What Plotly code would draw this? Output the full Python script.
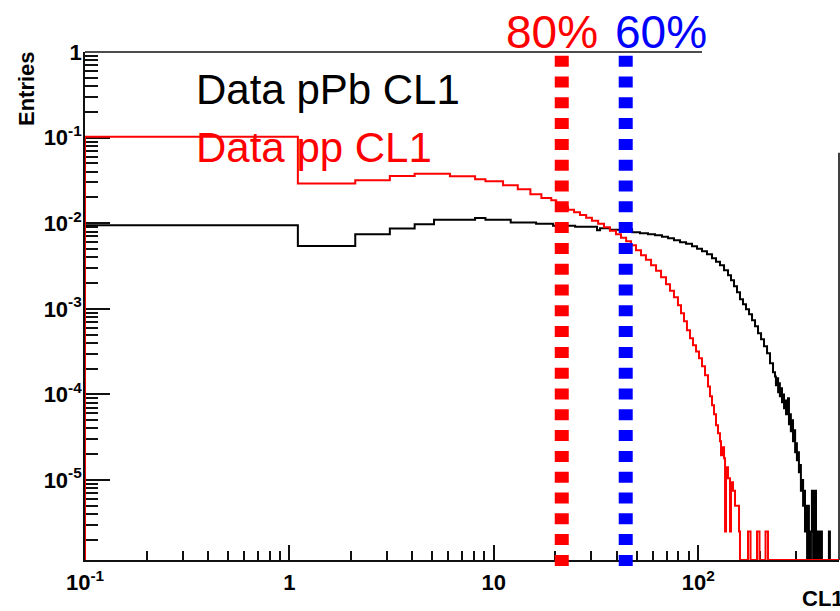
import plotly.graph_objects as go

# ---- CL1 multiplicity distributions (normalised entries per bin) ----
# pPb: bin edges in CL1 and entries
ppb_edges = [0.1, 1.1, 2.1, 3.1, 4.1, 5.1, 8.1, 9.1, 12.1, 16.1, 19.5, 25.0, 32.0, 33.1,
             37.0, 41.4, 44.8, 47.5, 51.9, 56.8, 61.5, 66.5, 71.2, 76.1, 81.5, 87.2, 93.3,
             98.7, 104.4, 110.4, 116.8, 122.2, 127.8, 133.8, 139.9, 144.7, 149.7, 154.8,
             160.1, 165.6, 171.3, 177.3, 183.4, 189.7, 196.2, 203.0, 209.9, 217.2, 224.6,
             232.3, 237.6, 240, 243, 246, 249, 251, 254, 257, 260, 263, 266, 269, 272, 275,
             278, 281, 284, 288, 291, 294, 298, 301, 304, 308, 311, 315, 318, 322, 326, 329,
             333, 337, 341, 345, 348, 352, 356, 360, 365, 369, 373, 377, 381, 386, 390, 394,
             399, 403, 436, 441, 500]
ppb_entries = [0.00945, 0.00542, 0.00742, 0.00865, 0.00970, 0.0110, 0.0115, 0.0110, 0.0102,
               0.00984, 0.00933, 0.00908, 0.00826, 0.00872, 0.00838, 0.00815, 0.00849,
               0.00783, 0.00762, 0.00742, 0.00722, 0.00694, 0.00667, 0.00631, 0.00598,
               0.00574, 0.00537, 0.00502, 0.00470, 0.00434, 0.00389, 0.00354, 0.00322,
               0.00282, 0.00247, 0.00215, 0.00183, 0.00156, 0.00129, 0.00113, 0.000987,
               0.000863, 0.000734, 0.000625, 0.000518, 0.000441, 0.000365, 0.000302,
               0.000231, 0.000181, 1.62e-4, 1.28e-4, 1.54e-4, 1.06e-4, 1.35e-4, 9.5e-5,
               1.18e-4, 8.1e-5, 1.0e-4, 6.9e-5, 8.5e-5, 5.85e-5, 6.9e-5, 9.0e-5, 4.47e-5,
               5.85e-5, 3.7e-5, 4.98e-5, 2.83e-5, 3.81e-5, 2.11e-5, 2.69e-5, 1.7e-5, 2.11e-5,
               1.23e-5, 1.5e-5, 7.5e-6, 1.0e-5, 5.0e-6, 7.5e-6, 2.5e-6, 5.0e-6, 0, 5.0e-6,
               2.5e-6, 0, 2.5e-6, 7.5e-6, 0, 2.5e-6, 7.5e-6, 0, 2.5e-6, 0, 2.5e-6, 0, 2.5e-6,
               0, 2.5e-6, 0]

# pp: bin edges in CL1 and entries
pp_edges = [0.1, 1.1, 2.1, 3.1, 4.1, 6.1, 8.1, 9.1, 11.1, 13.1, 15.1, 17.1, 19.1, 20.2,
            21.6, 23.1, 24.7, 26.4, 28.3, 30.2, 32.4, 34.6, 37.0, 39.6, 41.9, 44.4, 46.9,
            49.6, 52.5, 55.5, 58.8, 62.2, 65.8, 69.6, 72.8, 76.1, 79.6, 82.4, 85.2, 88.1,
            91.2, 94.3, 97.6, 100.9, 104.4, 108.0, 111.7, 114.2, 116.8, 119.5, 122.2, 125.0,
            127.8, 129.3, 130.8, 133.8, 135.3, 136.8, 139.9, 143.1, 144.7, 148.0, 151.4,
            154.8, 158.4, 160.1, 175.3, 180.3, 194.0, 199.5, 213.5, 219.6, 500]
pp_entries = [0.102, 0.0290, 0.0317, 0.0356, 0.0377, 0.0353, 0.0326, 0.0309, 0.0277, 0.0249,
              0.0218, 0.0197, 0.0185, 0.0166, 0.0154, 0.0144, 0.0134, 0.0125, 0.0116,
              0.0107, 0.00984, 0.00896, 0.00815, 0.00742, 0.00675, 0.00615, 0.00552,
              0.00482, 0.00422, 0.00374, 0.00322, 0.00278, 0.00233, 0.00193, 0.00162,
              0.00136, 0.00110, 0.000886, 0.000714, 0.000561, 0.000452, 0.000374, 0.000318,
              0.000264, 0.000213, 0.000167, 0.000124, 9.5e-5, 7.46e-5, 5.85e-5, 4.35e-5,
              3.51e-5, 2.83e-5, 1.94e-5, 2.41e-5, 1.79e-5, 2.5e-6, 1.41e-5, 1.05e-5, 2.5e-6,
              9.4e-6, 7.5e-6, 5.0e-6, 5.0e-6, 2.5e-6, 0, 2.5e-6, 0, 2.5e-6, 0, 2.5e-6, 0]

# centrality cuts on CL1
cut_labels = ["80%", "60%"]
cut_values = [21.5, 44.2]
cut_colors = ["#ff0000", "#0000ff"]

series_names = ["Data pPb CL1", "Data pp CL1"]
series_colors = ["#000000", "#ff0000"]

x_tickvals = [0.1, 1, 10, 100]
x_ticktext = ["10<sup>-1</sup>", "1", "10", "10<sup>2</sup>"]
y_tickvals = [1, 0.1, 0.01, 1e-3, 1e-4, 1e-5]
y_ticktext = ["1", "10<sup>-1</sup>", "10<sup>-2</sup>", "10<sup>-3</sup>",
              "10<sup>-4</sup>", "10<sup>-5</sup>"]

# ---- canvas geometry ----
W, H = 840, 611
L, R, T, B = 85, 1, 52, 51
PW, PH = W - L - R, H - T - B
X_RANGE = [-1, -1 + PW / 204.4]
Y_RANGE = [-PH / 85.6, 0]
FLOOR = 10 ** Y_RANGE[0]
FONT = "Liberation Sans, Arial, Helvetica, sans-serif"


def px(xp):
    return (xp - L) / PW


def py(yp):
    return (H - B - yp) / PH


def steps(edges, entries):
    """Histogram outline: rises from the frame floor, steps along bins, falls back."""
    xs, ys = [edges[0]], [FLOOR]
    for i, v in enumerate(entries):
        v = v if v > 0 else FLOOR
        xs += [edges[i], edges[i + 1]]
        ys += [v, v]
    xs.append(edges[-1])
    ys.append(FLOOR)
    return xs, ys


fig = go.Figure()
for (edges, entries), name, col in zip([(ppb_edges, ppb_entries), (pp_edges, pp_entries)],
                                        series_names, series_colors):
    xs, ys = steps(edges, entries)
    fig.add_trace(go.Scatter(x=xs, y=ys, mode="lines", name=name,
                             line=dict(color=col, width=2, simplify=False),
                             hoverinfo="skip", showlegend=False))

shapes = []
for v, col in zip(cut_values, cut_colors):
    shapes.append(dict(type="line", xref="x", yref="paper", x0=v, x1=v,
                       y0=py(55.7), y1=py(567), layer="above",
                       line=dict(color=col, width=14, dash="11px,9.8px")))
# frame top and right edges
shapes.append(dict(type="line", xref="paper", yref="paper", x0=0, x1=px(702), y0=1, y1=1,
                   line=dict(color="#111111", width=1.6), layer="below"))
shapes.append(dict(type="line", xref="paper", yref="paper", x0=1, x1=1, y0=0, y1=py(152.7),
                   line=dict(color="#111111", width=1.6), layer="below"))

annotations = []
for name, col, yc in zip(series_names, series_colors, [89, 147]):
    annotations.append(dict(text=name, xref="paper", yref="paper", x=px(194), y=py(yc),
                            xanchor="left", yanchor="middle", showarrow=False,
                            font=dict(family=FONT, size=42, color=col)))
for lab, col, xc in zip(cut_labels, cut_colors, [551.5, 660.5]):
    annotations.append(dict(text=lab, xref="paper", yref="paper", x=px(xc), y=py(31.5),
                            xanchor="center", yanchor="middle", showarrow=False,
                            font=dict(family=FONT, size=46, color=col)))
annotations.append(dict(text="<b>Entries</b>", xref="paper", yref="paper", x=px(26),
                        y=py(89), textangle=-90, xanchor="center", yanchor="middle",
                        showarrow=False, font=dict(family=FONT, size=22, color="black")))
annotations.append(dict(text="<b>CL1</b>", xref="paper", yref="paper", x=px(800),
                        y=py(598), xanchor="left", yanchor="middle", showarrow=False,
                        font=dict(family=FONT, size=22, color="black")))

axis_common = dict(type="log", showgrid=False, zeroline=False, showline=True,
                   linecolor="#111111", linewidth=1.6, ticks="inside", tickcolor="#111111",
                   tickwidth=1.6, layer="below traces", tickmode="array",
                   tickfont=dict(family=FONT, size=22, color="black", weight="bold"))

fig.update_layout(
    width=W, height=H, margin=dict(l=L, r=R, t=T, b=B, pad=0),
    paper_bgcolor="white", plot_bgcolor="white",
    xaxis=dict(range=X_RANGE, tickvals=x_tickvals, ticktext=x_ticktext, ticklen=15,
               ticklabelstandoff=2,
               minor=dict(ticks="inside", dtick="D1", ticklen=9, tickwidth=1.6,
                          tickcolor="#111111", showgrid=False),
               **axis_common),
    yaxis=dict(range=Y_RANGE, tickvals=y_tickvals, ticktext=y_ticktext, ticklen=25,
               ticklabelstandoff=-3,
               minor=dict(ticks="inside", dtick="D1", ticklen=13, tickwidth=1.6,
                          tickcolor="#111111", showgrid=False),
               **axis_common),
    shapes=shapes, annotations=annotations, showlegend=False,
)

fig.write_html("out.html")
